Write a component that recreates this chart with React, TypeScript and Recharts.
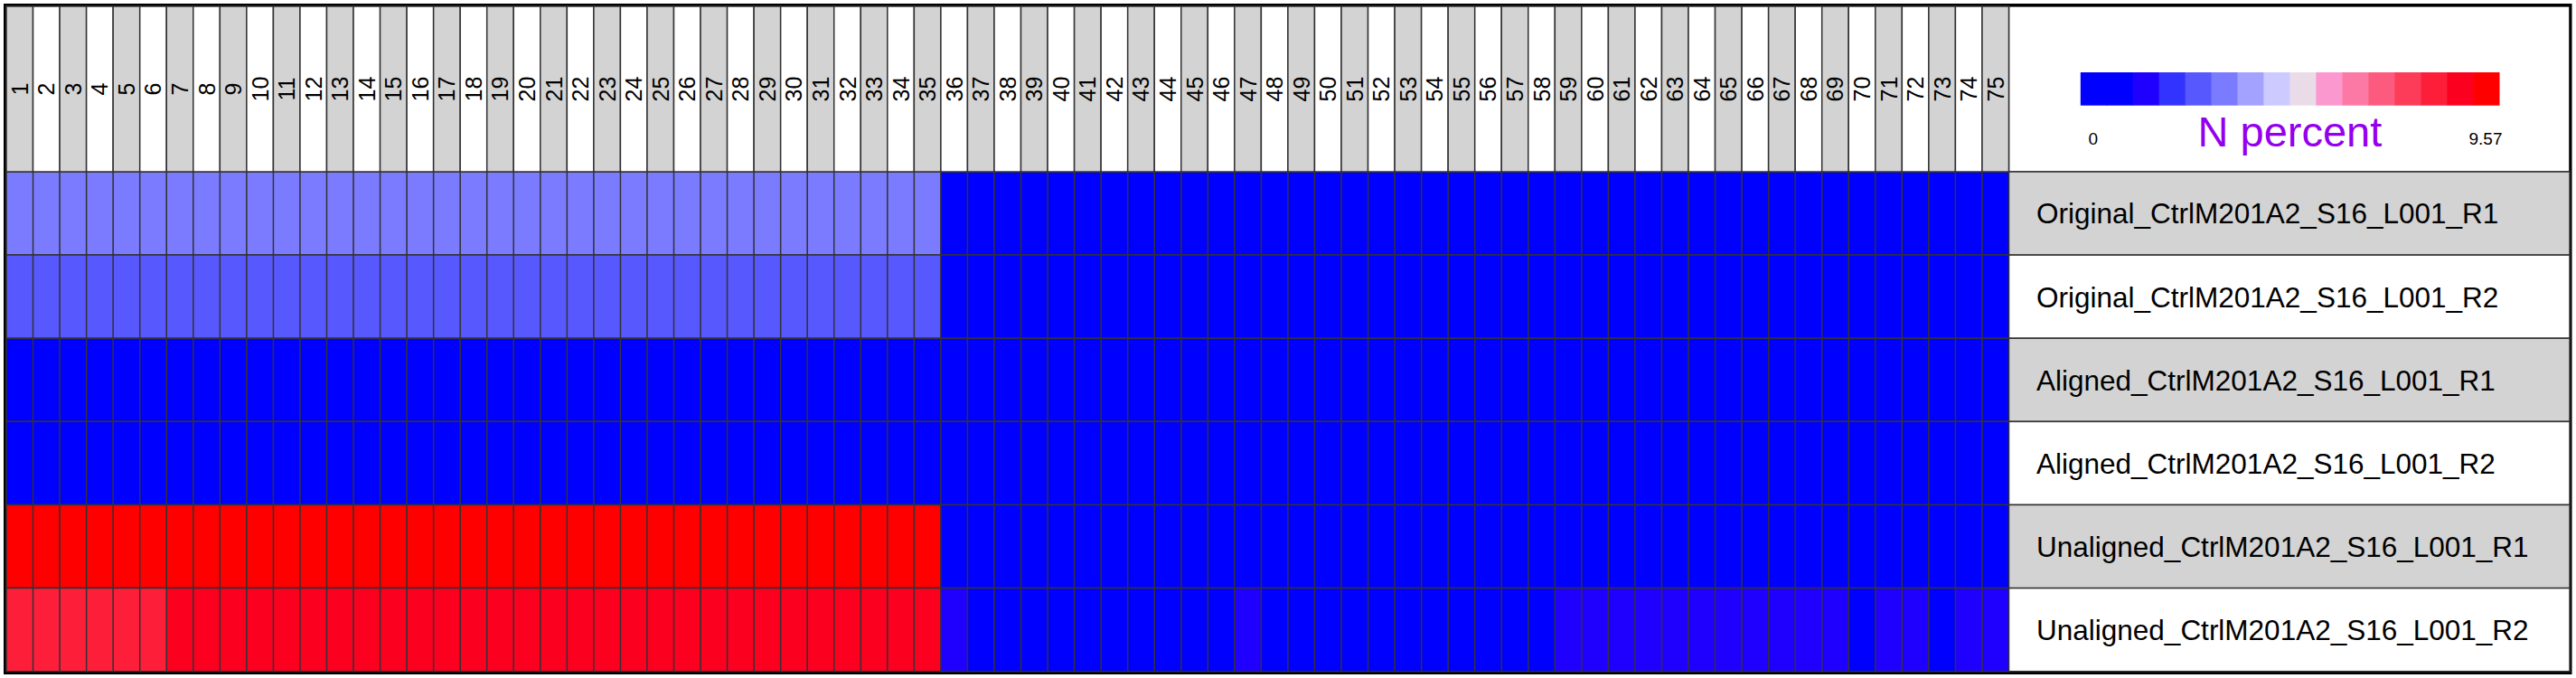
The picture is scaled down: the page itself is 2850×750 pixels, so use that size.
import React from "react";
import { BarChart, Bar, XAxis, YAxis, Cell, Customized } from "recharts";

// read positions (columns) and samples (rows)
const positions = [
  "1", "2", "3", "4", "5", "6", "7", "8", "9", "10",
  "11", "12", "13", "14", "15", "16", "17", "18", "19", "20",
  "21", "22", "23", "24", "25", "26", "27", "28", "29", "30",
  "31", "32", "33", "34", "35", "36", "37", "38", "39", "40",
  "41", "42", "43", "44", "45", "46", "47", "48", "49", "50",
  "51", "52", "53", "54", "55", "56", "57", "58", "59", "60",
  "61", "62", "63", "64", "65", "66", "67", "68", "69", "70",
  "71", "72", "73", "74", "75",
];

const samples = [
  "Original_CtrlM201A2_S16_L001_R1",
  "Original_CtrlM201A2_S16_L001_R2",
  "Aligned_CtrlM201A2_S16_L001_R1",
  "Aligned_CtrlM201A2_S16_L001_R2",
  "Unaligned_CtrlM201A2_S16_L001_R1",
  "Unaligned_CtrlM201A2_S16_L001_R2",
];

// N percent per position, one array per sample
const originalR1 = [
  3.31, 3.29, 3.30, 3.27, 3.26, 3.28, 3.29, 3.27, 3.28, 3.26,
  3.27, 3.28, 3.27, 3.29, 3.28, 3.27, 3.26, 3.28, 3.27, 3.29,
  3.28, 3.27, 3.26, 3.28, 3.27, 3.29, 3.28, 3.27, 3.26, 3.28,
  3.27, 3.29, 3.28, 3.27, 3.26,
  0.02, 0.02, 0.01, 0.02, 0.02, 0.01, 0.02, 0.02, 0.01, 0.02,
  0.02, 0.01, 0.02, 0.02, 0.01, 0.02, 0.02, 0.01, 0.02, 0.02,
  0.01, 0.02, 0.02, 0.01, 0.02, 0.02, 0.01, 0.02, 0.02, 0.01,
  0.02, 0.02, 0.01, 0.02, 0.02, 0.01, 0.02, 0.02, 0.01, 0.02,
];

const originalR2 = [
  2.74, 2.72, 2.73, 2.71, 2.70, 2.72, 2.73, 2.71, 2.72, 2.70,
  2.71, 2.72, 2.71, 2.73, 2.72, 2.71, 2.70, 2.72, 2.71, 2.73,
  2.72, 2.71, 2.70, 2.72, 2.71, 2.73, 2.72, 2.71, 2.70, 2.72,
  2.71, 2.73, 2.72, 2.71, 2.70,
  0.03, 0.02, 0.02, 0.03, 0.02, 0.02, 0.03, 0.02, 0.02, 0.03,
  0.02, 0.02, 0.03, 0.02, 0.02, 0.03, 0.02, 0.02, 0.03, 0.02,
  0.02, 0.03, 0.02, 0.02, 0.03, 0.02, 0.02, 0.03, 0.02, 0.02,
  0.03, 0.02, 0.02, 0.03, 0.02, 0.02, 0.03, 0.02, 0.02, 0.03,
];

const alignedR1 = [
  0.00, 0.00, 0.00, 0.00, 0.00, 0.00, 0.00, 0.00, 0.00, 0.00,
  0.00, 0.00, 0.00, 0.00, 0.00, 0.00, 0.00, 0.00, 0.00, 0.00,
  0.00, 0.00, 0.00, 0.00, 0.00, 0.00, 0.00, 0.00, 0.00, 0.00,
  0.00, 0.00, 0.00, 0.00, 0.00, 0.00, 0.00, 0.00, 0.00, 0.00,
  0.00, 0.00, 0.00, 0.00, 0.00, 0.00, 0.00, 0.00, 0.00, 0.00,
  0.00, 0.00, 0.00, 0.00, 0.00, 0.00, 0.00, 0.00, 0.00, 0.00,
  0.00, 0.00, 0.00, 0.00, 0.00, 0.00, 0.00, 0.00, 0.00, 0.00,
  0.00, 0.00, 0.00, 0.00, 0.00,
];

const alignedR2 = [
  0.00, 0.00, 0.00, 0.00, 0.00, 0.00, 0.00, 0.00, 0.00, 0.00,
  0.00, 0.00, 0.00, 0.00, 0.00, 0.00, 0.00, 0.00, 0.00, 0.00,
  0.00, 0.00, 0.00, 0.00, 0.00, 0.00, 0.00, 0.00, 0.00, 0.00,
  0.00, 0.00, 0.00, 0.00, 0.00, 0.00, 0.00, 0.00, 0.00, 0.00,
  0.00, 0.00, 0.00, 0.00, 0.00, 0.00, 0.00, 0.00, 0.00, 0.00,
  0.00, 0.00, 0.00, 0.00, 0.00, 0.00, 0.00, 0.00, 0.00, 0.00,
  0.00, 0.00, 0.00, 0.00, 0.00, 0.00, 0.00, 0.00, 0.00, 0.00,
  0.00, 0.00, 0.00, 0.00, 0.00,
];

const unalignedR1 = [
  9.57, 9.52, 9.50, 9.48, 9.47, 9.49, 9.51, 9.48, 9.50, 9.47,
  9.48, 9.50, 9.49, 9.51, 9.48, 9.47, 9.49, 9.50, 9.48, 9.51,
  9.49, 9.48, 9.47, 9.50, 9.49, 9.51, 9.48, 9.47, 9.49, 9.50,
  9.48, 9.51, 9.49, 9.48, 9.47,
  0.05, 0.04, 0.05, 0.04, 0.05, 0.04, 0.05, 0.04, 0.05, 0.04,
  0.05, 0.04, 0.05, 0.04, 0.05, 0.04, 0.05, 0.04, 0.05, 0.04,
  0.05, 0.04, 0.05, 0.04, 0.05, 0.04, 0.05, 0.04, 0.05, 0.04,
  0.05, 0.04, 0.05, 0.04, 0.05, 0.04, 0.05, 0.04, 0.05, 0.04,
];

const unalignedR2 = [
  8.12, 8.10, 8.09, 8.11, 8.10, 8.08, 8.66, 8.64, 8.65, 8.63,
  8.64, 8.66, 8.65, 8.63, 8.64, 8.65, 8.66, 8.64, 8.63, 8.65,
  8.64, 8.66, 8.65, 8.63, 8.64, 8.65, 8.66, 8.64, 8.63, 8.65,
  8.64, 8.66, 8.65, 8.63, 8.64,
  1.26, 0.95, 0.92, 0.90, 0.93, 0.91, 0.94, 0.96, 0.97, 0.99,
  1.02, 1.24, 1.05, 1.03, 1.01, 1.04, 1.06, 1.08, 1.07, 1.10,
  1.12, 1.14, 1.16, 1.22, 1.25, 1.27, 1.28, 1.30, 1.29, 1.31,
  1.30, 1.28, 1.27, 1.24, 1.15, 1.23, 1.25, 1.17, 1.26, 1.28,
];

const nPercent = [originalR1, originalR2, alignedR1, alignedR2, unalignedR1, unalignedR2];

const scaleMin = 0;
const scaleMax = 9.57;
const scaleTitle = "N percent";

const palette = [
  "#0000ff", "#0000ff", "#1f00ff", "#3333ff", "#5858ff", "#7b7bff", "#a3a3ff", "#cccaff",
  "#e9dce8", "#fc98d0", "#fc79a5", "#fc5a7e", "#fc3c58", "#fd1f3a", "#fc0020", "#ff0000",
];

const FONT = "'Liberation Sans', Arial, Helvetica, sans-serif";
const W = 2850;
const H = 750;
const LEFT = 7;
const TOP = 7;
const RIGHT_EDGE = 2843;
const BOTTOM = 742.7;
const HEADER_H = 183;
const PANEL_W = 620.5;
const PLOT_RIGHT = RIGHT_EDGE - PANEL_W;
const COL_W = (PLOT_RIGHT - LEFT) / positions.length;
const ROW_H = (BOTTOM - TOP - HEADER_H) / samples.length;
const GRID = "#333333";

const colourFor = (v: number) => {
  const bin = Math.floor(((v - scaleMin) / (scaleMax - scaleMin)) * palette.length);
  return palette[Math.max(0, Math.min(palette.length - 1, bin))];
};

// every tile is one unit tall, stacked one per sample
const table = positions.map((p) => {
  const row: Record<string, string | number> = { pos: p };
  samples.forEach((_, s) => {
    row[`s${s}`] = 1;
  });
  return row;
});

const rowTicks = samples.map((_, i) => i + 0.5);

function HeaderTick(props: any) {
  const { x, payload } = props;
  const odd = Number(payload.value) % 2 === 1;
  return (
    <g>
      <rect
        x={x - COL_W / 2}
        y={TOP}
        width={COL_W}
        height={HEADER_H}
        fill={odd ? "#d3d3d3" : "#ffffff"}
        stroke={GRID}
        strokeWidth={1.5}
      />
      <text
        transform={`translate(${x},${TOP + HEADER_H / 2}) rotate(-90)`}
        textAnchor="middle"
        dy="0.36em"
        fontSize={25}
        fontFamily={FONT}
        fill="#000"
      >
        {payload.value}
      </text>
    </g>
  );
}

function RowLabel(props: any) {
  const { y, payload } = props;
  const i = Math.floor(payload.value);
  return (
    <g>
      <rect
        x={PLOT_RIGHT}
        y={y - ROW_H / 2}
        width={PANEL_W}
        height={ROW_H}
        fill={i % 2 === 0 ? "#d3d3d3" : "#ffffff"}
        stroke={GRID}
        strokeWidth={1.5}
      />
      <text x={PLOT_RIGHT + 30.5} y={y} dy="0.36em" fontSize={31.5} fontFamily={FONT} fill="#000">
        {samples[i]}
      </text>
    </g>
  );
}

function ScaleLegend() {
  const barX = PLOT_RIGHT + 79.3;
  const barW = 463.2;
  const boxW = barW / palette.length;
  return (
    <g>
      <rect x={PLOT_RIGHT} y={TOP} width={PANEL_W} height={HEADER_H} fill="#fff" stroke={GRID} strokeWidth={1.5} />
      {palette.map((c, i) => (
        <rect key={i} x={barX + i * boxW} y={80} width={boxW + 0.5} height={36.7} fill={c} />
      ))}
      <text x={barX + barW / 2} y={162} textAnchor="middle" fontSize={47} fontFamily={FONT} fill="#9400ee">
        {scaleTitle}
      </text>
      <text x={barX + 14} y={160} textAnchor="middle" fontSize={19} fontFamily={FONT} fill="#000">
        {scaleMin}
      </text>
      <text x={barX + barW - 15} y={160} textAnchor="middle" fontSize={19} fontFamily={FONT} fill="#000">
        {scaleMax}
      </text>
      <rect x={5.5} y={5.5} width={2838.5} height={739} fill="none" stroke="#000" strokeWidth={3} />
    </g>
  );
}

export default function App() {
  return (
    <div style={{ position: "absolute", left: 0, top: 0, width: W, height: H, background: "#fff" }}>
      <BarChart
        width={W}
        height={H}
        data={table}
        margin={{ top: TOP, right: W - RIGHT_EDGE, bottom: H - BOTTOM, left: LEFT }}
        barCategoryGap={0}
        barGap={0}
      >
        <XAxis
          dataKey="pos"
          orientation="top"
          height={HEADER_H}
          interval={0}
          tickLine={false}
          axisLine={false}
          tick={HeaderTick}
        />
        <YAxis
          orientation="right"
          type="number"
          domain={[0, samples.length]}
          reversed
          ticks={rowTicks}
          interval={0}
          width={PANEL_W}
          tickLine={false}
          axisLine={false}
          tick={RowLabel}
        />
        {samples.map((_, s) => (
          <Bar
            key={s}
            dataKey={`s${s}`}
            stackId="tiles"
            isAnimationActive={false}
            stroke={GRID}
            strokeWidth={1.5}
          >
            {table.map((_, c) => (
              <Cell key={c} fill={colourFor(nPercent[s][c])} />
            ))}
          </Bar>
        ))}
        <Customized component={ScaleLegend} />
      </BarChart>
    </div>
  );
}
